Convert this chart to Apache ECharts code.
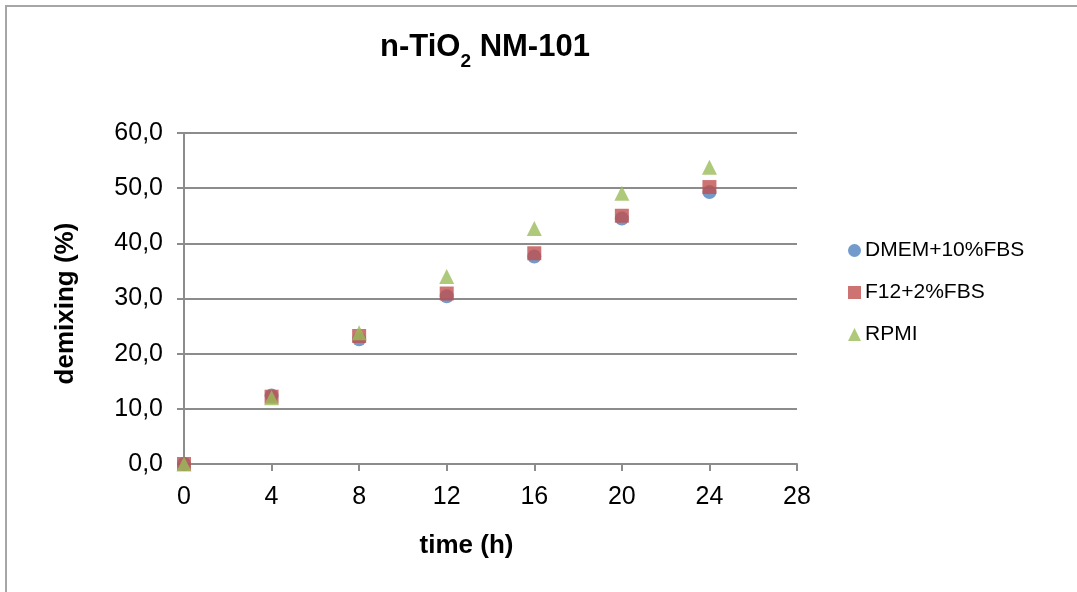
<!DOCTYPE html>
<html>
<head>
<meta charset="utf-8">
<script src="https://cdn.jsdelivr.net/npm/echarts@6/dist/echarts.min.js"></script>
<style>
  html, body { margin: 0; padding: 0; background: #fff; }
  #chart { width: 1077px; height: 592px; }
</style>
</head>
<body>
<div id="chart"></div>
<script>
// Sampling times (h)
const times = [0, 4, 8, 12, 16, 20, 24];
// Demixing (%) per medium
const dmem = [0, 12.4, 22.6, 30.4, 37.6, 44.5, 49.3];
const f12 = [0, 12.2, 23.2, 30.9, 38.2, 45.0, 50.2];
const rpmi = [0, 12.0, 23.8, 34.0, 42.7, 49.1, 53.8];
const seriesNames = ['DMEM+10%FBS', 'F12+2%FBS', 'RPMI'];
const xTicks = [0, 4, 8, 12, 16, 20, 24, 28];
const yTicks = [0, 10, 20, 30, 40, 50, 60];

const pairs = arr => times.map((t, i) => [t, arr[i]]);
const gridColor = '#8c8c8c';
const font = 'Liberation Sans, Arial, sans-serif';

const chart = echarts.init(document.getElementById('chart'));
chart.setOption({
  animation: false,
  backgroundColor: '#fff',
  graphic: [{
    type: 'rect',
    shape: { x: 6, y: 6, width: 1200, height: 700 },
    style: { fill: 'none', stroke: '#a6a6a6', lineWidth: 2 },
    silent: true
  }],
  title: {
    text: '{a|n-TiO}{s|2}{a| NM-101}',
    left: 480,
    top: 27,
    textAlign: 'center',
    textStyle: {
      rich: {
        a: { fontFamily: font, fontWeight: 'bold', fontSize: 31, color: '#000', lineHeight: 36, verticalAlign: 'top' },
        s: { fontFamily: font, fontWeight: 'bold', fontSize: 19, color: '#000', lineHeight: 19, padding: [20, 0, 0, 0], verticalAlign: 'top' }
      }
    }
  },
  legend: {
    orient: 'vertical',
    left: 843,
    top: 235,
    itemGap: 21,
    itemWidth: 13,
    itemHeight: 13,
    textStyle: { fontFamily: font, fontSize: 21, color: '#000', padding: [0, 0, 0, -1] },
    data: [
      { name: seriesNames[0], icon: 'circle' },
      { name: seriesNames[1], icon: 'rect' },
      { name: seriesNames[2], icon: 'triangle' }
    ]
  },
  grid: { left: 184, top: 133, width: 613, height: 331, containLabel: false },
  xAxis: {
    type: 'value',
    min: 0,
    max: 28,
    interval: 4,
    name: 'time (h)',
    nameLocation: 'middle',
    nameGap: 69,
    nameTextStyle: { fontFamily: font, fontWeight: 'bold', fontSize: 26, color: '#000', padding: [0, 48, 0, 0] },
    axisLine: { show: true, lineStyle: { color: gridColor, width: 2 } },
    axisTick: { show: true, length: 7, inside: false, lineStyle: { color: gridColor, width: 2 } },
    axisLabel: {
      fontFamily: font, fontSize: 25, color: '#000', margin: 21,
      formatter: v => xTicks.includes(v) ? String(v) : ''
    },
    splitLine: { show: false }
  },
  yAxis: {
    type: 'value',
    min: 0,
    max: 60,
    interval: 10,
    name: 'demixing (%)',
    nameLocation: 'middle',
    nameGap: 105,
    nameRotate: 90,
    nameTextStyle: { fontFamily: font, fontWeight: 'bold', fontSize: 26, color: '#000', padding: [0, 10, 0, 0] },
    axisLine: { show: true, lineStyle: { color: gridColor, width: 2 } },
    axisTick: { show: true, length: 7, inside: false, lineStyle: { color: gridColor, width: 2 } },
    axisLabel: {
      fontFamily: font, fontSize: 25, color: '#000', margin: 21,
      formatter: v => yTicks.includes(v) ? v.toFixed(1).replace('.', ',') : ''
    },
    splitLine: { show: true, lineStyle: { color: gridColor, width: 2 } }
  },
  series: [
    {
      name: seriesNames[0], type: 'scatter', data: pairs(dmem),
      symbol: 'circle', symbolSize: 14,
      itemStyle: { color: '#4F81BD' }
    },
    {
      name: seriesNames[1], type: 'scatter', data: pairs(f12),
      symbol: 'rect', symbolSize: 14,
      itemStyle: { color: '#C0504D' }
    },
    {
      name: seriesNames[2], type: 'scatter', data: pairs(rpmi),
      symbol: 'triangle', symbolSize: 15,
      itemStyle: { color: '#9BBB59' }
    }
  ]
});
</script>
</body>
</html>
